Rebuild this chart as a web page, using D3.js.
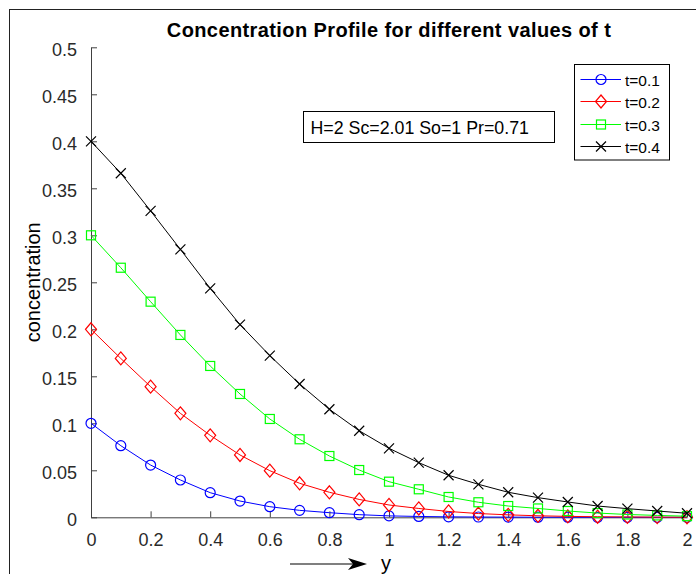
<!DOCTYPE html>
<html>
<head>
<meta charset="utf-8">
<script src="https://cdn.jsdelivr.net/npm/d3@7"></script>
<style>
  html, body { margin: 0; padding: 0; background: #fff; }
  svg { display: block; font-family: "Liberation Sans", Arial, Helvetica, sans-serif; }
</style>
</head>
<body>
<svg id="chart" width="696" height="574"></svg>
<script>
// Distance from the plate
const yPositions = [0, 0.1, 0.2, 0.3, 0.4, 0.5, 0.6, 0.7, 0.8, 0.9, 1.0,
                    1.1, 1.2, 1.3, 1.4, 1.5, 1.6, 1.7, 1.8, 1.9, 2.0];

// Concentration for each time value
const concT01 = [0.100, 0.0762, 0.0556, 0.0397, 0.0262, 0.0173, 0.0113, 0.0074, 0.0049, 0.0028, 0.0015,
                 0.0009, 0.0005, 0.0003, 0.0002, 0.0001, 0.0001, 0.0000, 0.0000, 0.0000, 0.0000];
const concT02 = [0.200, 0.169, 0.139, 0.1106, 0.0872, 0.0663, 0.0496, 0.0362, 0.0266, 0.0190, 0.0131,
                 0.0094, 0.0062, 0.0040, 0.0026, 0.0016, 0.0010, 0.0006, 0.0004, 0.0002, 0.0001];
const concT03 = [0.300, 0.2655, 0.2294, 0.194, 0.161, 0.1312, 0.1046, 0.083, 0.0652, 0.0503, 0.0379,
                 0.0298, 0.0216, 0.0160, 0.0120, 0.0094, 0.0067, 0.0045, 0.0030, 0.0020, 0.0012];
const concT04 = [0.400, 0.366, 0.326, 0.285, 0.2436, 0.205, 0.172, 0.1418, 0.1149, 0.0921, 0.0734,
                 0.0581, 0.0447, 0.0351, 0.0266, 0.0209, 0.0163, 0.0120, 0.0092, 0.0067, 0.0043];

const seriesNames = ["t=0.1", "t=0.2", "t=0.3", "t=0.4"];
const seriesColors = ["#0000ff", "#ff0000", "#00ff00", "#000000"];
const seriesMarkers = ["circle", "diamond", "square", "cross"];

const xTicks = [0, 0.2, 0.4, 0.6, 0.8, 1, 1.2, 1.4, 1.6, 1.8, 2];
const yTicks = [0, 0.05, 0.1, 0.15, 0.2, 0.25, 0.3, 0.35, 0.4, 0.45, 0.5];

const titleText = "Concentration Profile for different values of t";
const yLabelText = "concentration";
const xLabelText = "y";
const noteText = "H=2 Sc=2.01 So=1 Pr=0.71";

const series = [concT01, concT02, concT03, concT04].map((vals, i) => ({
  name: seriesNames[i], color: seriesColors[i], marker: seriesMarkers[i],
  points: vals.map((v, j) => [yPositions[j], v])
}));

const svg = d3.select("#chart");
const axisColor = "#404040";
const labelColor = "#2a2a2a";

// Figure frame
svg.append("rect").attr("x", 9.5).attr("y", 9.5).attr("width", 720).attr("height", 620)
  .attr("fill", "none").attr("stroke", "#222").attr("stroke-width", 1);

const x = d3.scaleLinear().domain([0, 2]).range([91, 687]);
const y = d3.scaleLinear().domain([0, 0.5]).range([517.3, 47.3]);

// Axes: ticks point inward
const xAxis = d3.axisBottom(x).tickValues(xTicks).tickSizeInner(-6).tickSizeOuter(0)
  .tickPadding(16).tickFormat(d3.format("~g"));
const yAxis = d3.axisLeft(y).tickValues(yTicks).tickSizeInner(-6).tickSizeOuter(0)
  .tickPadding(14).tickFormat(d3.format("~g"));

const gx = svg.append("g").attr("transform", `translate(0,${y(0)})`).call(xAxis);
const gy = svg.append("g").attr("transform", `translate(${x(0)},0)`).call(yAxis);
[gx, gy].forEach(g => {
  g.select(".domain").attr("stroke", axisColor);
  g.selectAll(".tick line").attr("stroke", axisColor);
  g.selectAll(".tick text").attr("fill", labelColor).attr("font-size", 18)
    .attr("font-family", "'Liberation Sans', Arial, sans-serif");
});
gy.selectAll(".tick text").attr("dy", "0.48em");
gx.selectAll(".tick text").attr("dy", "0.71em");

// Marker shapes
function drawMarker(g, type, cx, cy, color) {
  if (type === "circle") {
    g.append("circle").attr("cx", cx).attr("cy", cy).attr("r", 5)
      .attr("fill", "none").attr("stroke", color).attr("stroke-width", 1.2);
  } else if (type === "diamond") {
    g.append("path").attr("d", `M${cx},${cy - 6.5}L${cx + 5.5},${cy}L${cx},${cy + 6.5}L${cx - 5.5},${cy}Z`)
      .attr("fill", "none").attr("stroke", color).attr("stroke-width", 1.2);
  } else if (type === "square") {
    g.append("rect").attr("x", cx - 4.5).attr("y", cy - 4.5).attr("width", 9).attr("height", 9)
      .attr("fill", "none").attr("stroke", color).attr("stroke-width", 1.2);
  } else {
    g.append("path").attr("d", `M${cx - 5},${cy - 5}L${cx + 5},${cy + 5}M${cx - 5},${cy + 5}L${cx + 5},${cy - 5}`)
      .attr("fill", "none").attr("stroke", color).attr("stroke-width", 1.2);
  }
}

const line = d3.line().x(d => x(d[0])).y(d => y(d[1]));
series.forEach(s => {
  const g = svg.append("g");
  g.append("path").attr("d", line(s.points)).attr("fill", "none")
    .attr("stroke", s.color).attr("stroke-width", 1);
  s.points.forEach(p => drawMarker(g, s.marker, x(p[0]), y(p[1]), s.color));
});

// Title
svg.append("text").attr("x", (x(0) + x(2)) / 2).attr("y", 37).attr("text-anchor", "middle")
  .attr("font-size", 20).attr("font-weight", "bold").attr("letter-spacing", 0.4)
  .attr("fill", "#000").text(titleText);

// Y label
svg.append("text").attr("transform", `translate(40,${(y(0) + y(0.5)) / 2}) rotate(-90)`)
  .attr("text-anchor", "middle").attr("font-size", 20).attr("fill", "#000").text(yLabelText);

// X label with arrow
svg.append("line").attr("x1", 290).attr("x2", 356).attr("y1", 564).attr("y2", 564)
  .attr("stroke", "#000").attr("stroke-width", 1.2);
svg.append("path").attr("d", "M367,564L348,558L353,564L348,570Z").attr("fill", "#000");
svg.append("text").attr("x", 381).attr("y", 569.5).attr("font-size", 20).attr("fill", "#000").text(xLabelText);

// Parameter box
const note = svg.append("g");
note.append("rect").attr("x", 303.5).attr("y", 111.5).attr("width", 251).attr("height", 31)
  .attr("fill", "#fff").attr("stroke", "#000").attr("stroke-width", 1);
note.append("text").attr("x", 310.5).attr("y", 134).attr("font-size", 17.8).attr("fill", "#000").text(noteText);

// Legend
const legend = svg.append("g");
legend.append("rect").attr("x", 574.5).attr("y", 64.5).attr("width", 95).attr("height", 95.5)
  .attr("fill", "#fff").attr("stroke", "#000").attr("stroke-width", 1);
const legendY = [79.5, 101.5, 124.5, 146.5];
series.forEach((s, i) => {
  const ly = legendY[i];
  legend.append("line").attr("x1", 580.5).attr("x2", 621).attr("y1", ly).attr("y2", ly)
    .attr("stroke", s.color).attr("stroke-width", 1);
  drawMarker(legend, s.marker, 601, ly, s.color);
  legend.append("text").attr("x", 625).attr("y", ly + 6.5).attr("font-size", 15.5)
    .attr("fill", "#000").text(s.name);
});
</script>
</body>
</html>
